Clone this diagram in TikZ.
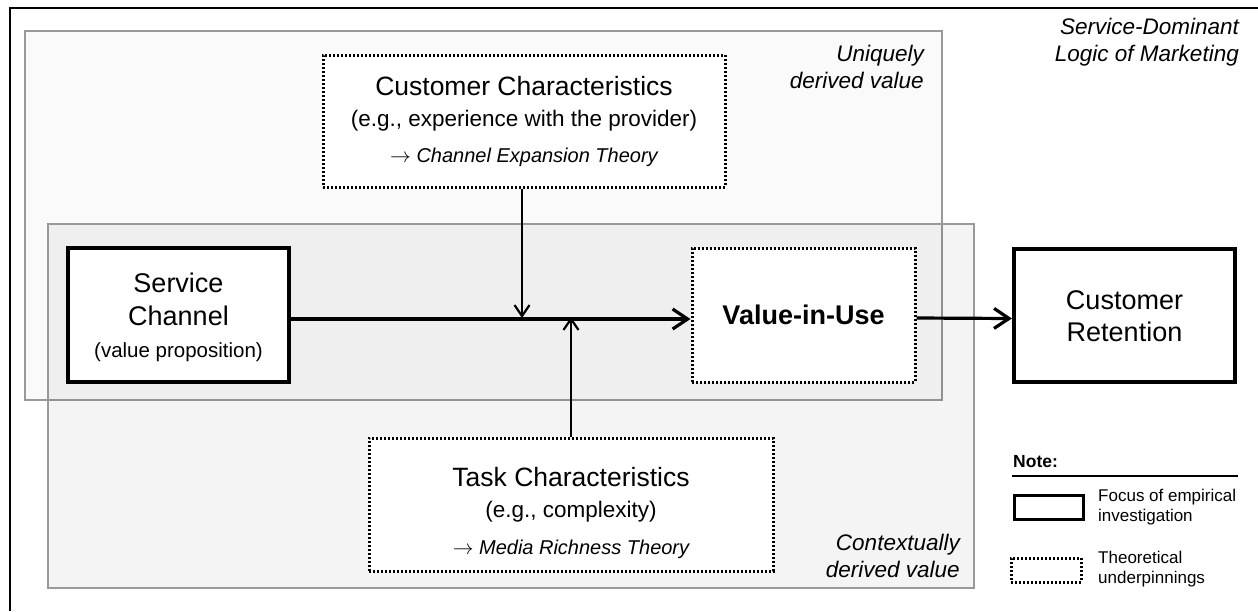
\documentclass[tikz,border=0pt]{standalone}
\usepackage{fontspec}
\setmainfont{Liberation Sans}
\usetikzlibrary{arrows.meta}
\newcommand\myfs[2]{\fontsize{#1}{#2}\selectfont}
\begin{document}
\begin{tikzpicture}[x=1pt,y=-1pt,
  region/.style={draw=black!40, line width=1.3pt, fill=black},
  focusbox/.style={draw=black, line width=4.2pt, fill=white, align=center, inner sep=0pt},
  theorybox/.style={draw=black, line width=3pt, dash pattern=on 2pt off 2pt, fill=white, align=center, inner sep=0pt},
  mainarr/.style={line width=3.2pt, -{Straight Barb[length=15pt,width=20pt]}},
  modarr/.style={line width=2.2pt, -{Straight Barb[length=11pt,width=15pt]}},
  ital/.style={font=\itshape\myfs{22.5}{26.5}, align=right, inner sep=0pt},
  legtext/.style={font=\myfs{17}{20}, align=left, inner sep=0pt},
]
\useasboundingbox (0,0) rectangle (1258,611);
\fill[white] (0,0) rectangle (1258,611);
% outer frame
\draw[line width=1.3pt] (10,611) -- (10,8) -- (1258,8);
% regions
\path[region, fill opacity=0.02] (25,31) rectangle (942,400);
\path[region, fill opacity=0.045] (48,224) rectangle (974,588);
% labels
\node[ital, anchor=east] (sdl) at (1239,42) {Service-Dominant\\Logic of Marketing};
\node[ital, anchor=east] (udv) at (924,67) {Uniquely\\derived value};
\node[ital, anchor=east] (cdv) at (960,556) {Contextually\\derived value};
% boxes
\node[focusbox, minimum width=221pt, minimum height=134pt, font=\myfs{27}{33.5}] (sc) at (178.5,315)
  {\rule{0pt}{24pt}Service\\Channel\\[-2pt]{\myfs{20.5}{24}(value proposition)}};
\node[theorybox, minimum width=402pt, minimum height=132pt, font=\myfs{22.5}{31}] (cc) at (524,121)
  {{\myfs{26.5}{31}Customer Characteristics}\\(e.g., experience with the provider)\\[5pt]{\myfs{20}{24}$\rightarrow$ \itshape Channel Expansion Theory}};
\node[theorybox, minimum width=223pt, minimum height=134pt, font=\bfseries\myfs{27}{33}] (viu) at (803.5,315) {Value-in-Use};
\node[focusbox, minimum width=221pt, minimum height=133pt, font=\myfs{27}{32}] (cr) at (1124.5,315.5) {\rule{0pt}{21pt}Customer\\Retention};
\node[theorybox, minimum width=404pt, minimum height=133pt, font=\myfs{22.5}{31}] (tc) at (571,504.5)
  {{\myfs{26.5}{31}\rule{0pt}{36pt}Task Characteristics}\\(e.g., complexity)\\[6pt]{\myfs{20}{24}$\rightarrow$ \itshape Media Richness Theory}};
% connectors
\coordinate (m1) at (522,318);
\coordinate (m2) at (571,317);
\draw[mainarr] ([yshift=-4pt]sc.east) -- ([yshift=-4pt]viu.west);
\draw[mainarr] ([yshift=-3pt]viu.east) -- ([yshift=-3pt]cr.west);
\draw[modarr] (cc.south -| m1) -- (m1);
\draw[modarr] (tc.north -| m2) -- (m2);
% legend
\node[font=\bfseries\myfs{17.5}{20}, anchor=west, inner sep=0pt] (note) at (1013,462) {Note:};
\coordinate (nl) at (1012,476);
\coordinate (nr) at (1238,476);
\draw[line width=1.3pt] (nl) -- (nr);
\node[focusbox, line width=3.5pt, minimum width=69pt, minimum height=24pt] (lf) at (1049,507.5) {};
\node[legtext, anchor=west] (lft) at (1098,507) {Focus of empirical\\investigation};
\node[theorybox, minimum width=70pt, minimum height=24pt] (lt) at (1046,570) {};
\node[legtext, anchor=west] (ltt) at (1098,569) {Theoretical\\underpinnings};
\end{tikzpicture}
\end{document}
